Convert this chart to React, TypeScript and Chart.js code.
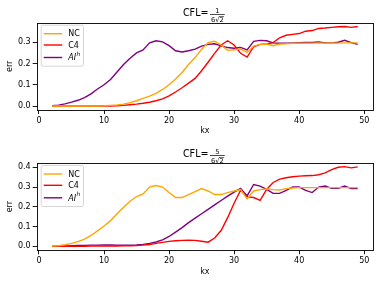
import React, { useEffect, useRef } from "react";
import { Chart, registerables } from "chart.js";

Chart.register(...registerables);

const kx = [2, 3, 4, 5, 6, 7, 8, 9, 10, 11, 12, 13, 14, 15, 16, 17, 18, 19, 20, 21, 22, 23, 24, 25, 26, 27, 28, 29, 30, 31, 32, 33, 34, 35, 36, 37, 38, 39, 40, 41, 42, 43, 44, 45, 46, 47, 48, 49];

// CFL = 1/(6*sqrt(2))
const nc1 = [0, 0, 0, 0, 0, 0, 0, 0, 0.001, 0.003, 0.005, 0.009, 0.016, 0.025, 0.036, 0.047, 0.06, 0.078, 0.1, 0.127, 0.158, 0.195, 0.228, 0.267, 0.298, 0.305, 0.287, 0.262, 0.265, 0.268, 0.252, 0.282, 0.29, 0.292, 0.284, 0.292, 0.293, 0.295, 0.295, 0.296, 0.296, 0.297, 0.296, 0.297, 0.296, 0.297, 0.297, 0.297];
const c41 = [0, 0, 0, 0, 0, 0, 0, 0, 0, 0, 0.001, 0.003, 0.006, 0.009, 0.013, 0.018, 0.025, 0.034, 0.048, 0.066, 0.086, 0.108, 0.13, 0.166, 0.206, 0.248, 0.287, 0.307, 0.287, 0.248, 0.23, 0.279, 0.29, 0.292, 0.298, 0.321, 0.333, 0.337, 0.341, 0.352, 0.355, 0.365, 0.367, 0.37, 0.373, 0.374, 0.37, 0.374];
const ai1 = [0.0015, 0.004, 0.01, 0.018, 0.027, 0.04, 0.057, 0.08, 0.1, 0.125, 0.16, 0.195, 0.225, 0.25, 0.264, 0.297, 0.307, 0.302, 0.284, 0.26, 0.254, 0.26, 0.268, 0.282, 0.29, 0.293, 0.283, 0.275, 0.272, 0.276, 0.264, 0.304, 0.309, 0.307, 0.297, 0.295, 0.296, 0.297, 0.298, 0.299, 0.299, 0.301, 0.297, 0.297, 0.3, 0.309, 0.298, 0.29];

// CFL = 5/(6*sqrt(2))
const nc2 = [0.001, 0.003, 0.008, 0.015, 0.024, 0.037, 0.055, 0.078, 0.103, 0.13, 0.165, 0.198, 0.228, 0.252, 0.265, 0.3, 0.308, 0.3, 0.272, 0.247, 0.247, 0.262, 0.277, 0.292, 0.28, 0.262, 0.262, 0.272, 0.28, 0.287, 0.24, 0.28, 0.287, 0.29, 0.287, 0.285, 0.292, 0.295, 0.297, 0.297, 0.297, 0.297, 0.297, 0.297, 0.297, 0.297, 0.297, 0.297];
const c42 = [0, 0, 0, 0, 0, 0, 0.001, 0.001, 0.001, 0.002, 0.002, 0.003, 0.003, 0.004, 0.006, 0.009, 0.015, 0.02, 0.025, 0.028, 0.03, 0.031, 0.03, 0.026, 0.021, 0.042, 0.08, 0.145, 0.218, 0.284, 0.25, 0.247, 0.233, 0.288, 0.323, 0.34, 0.347, 0.352, 0.355, 0.357, 0.358, 0.362, 0.372, 0.388, 0.4, 0.403, 0.397, 0.402];
const ai2 = [0, 0.001, 0.002, 0.003, 0.004, 0.005, 0.006, 0.006, 0.007, 0.007, 0.006, 0.006, 0.006, 0.007, 0.01, 0.015, 0.022, 0.033, 0.05, 0.072, 0.095, 0.12, 0.143, 0.165, 0.187, 0.21, 0.232, 0.254, 0.274, 0.293, 0.255, 0.313, 0.305, 0.288, 0.268, 0.268, 0.283, 0.3, 0.3, 0.283, 0.272, 0.3, 0.305, 0.293, 0.293, 0.305, 0.292, 0.292];

const xTicks = [0, 10, 20, 30, 40, 50];
const yTicks1 = [0, 0.1, 0.2, 0.3];
const yTicks2 = [0, 0.1, 0.2, 0.3, 0.4];
const seriesNames = ["NC", "C4", "AI"];
const seriesColors = ["#FFA500", "#FF0000", "#800080"];

const FONT = "'DejaVu Sans', sans-serif";

function pts(arr: number[]) {
  return kx.map((x, i) => ({ x, y: arr[i] }));
}

const decoPlugin = {
  id: "deco",
  afterDraw(chart: any, _args: any, opts: any) {
    const ctx = chart.ctx as CanvasRenderingContext2D;
    const a = chart.chartArea;
    ctx.save();
    // frame (spines)
    ctx.strokeStyle = "#000";
    ctx.lineWidth = 0.9;
    ctx.strokeRect(Math.round(a.left) + 0.5, Math.round(a.top) + 0.5, Math.round(a.right - a.left), Math.round(a.bottom - a.top));

    // title
    const cx = (a.left + a.right) / 2;
    ctx.fillStyle = "#000";
    ctx.font = `9.6px ${FONT}`;
    ctx.textBaseline = "alphabetic";
    const t = "CFL=";
    const tw = ctx.measureText(t).width;
    ctx.font = `6.7px ${FONT}`;
    const denomA = "6";
    const denomB = "√";
    const denomC = "2";
    const wA = ctx.measureText(denomA).width;
    const wB = ctx.measureText(denomB).width;
    const wC = ctx.measureText(denomC).width;
    const fw = wA + wB + wC + 2;
    const total = tw + 1.5 + fw;
    const x0 = cx - total / 2 - 1;
    ctx.font = `9.6px ${FONT}`;
    ctx.textAlign = "left";
    ctx.fillText(t, x0, 16);
    const fx = x0 + tw + 1.5;
    ctx.lineWidth = 0.7;
    ctx.beginPath();
    ctx.moveTo(fx, 14.5);
    ctx.lineTo(fx + fw, 14.5);
    ctx.stroke();
    ctx.font = `6.7px ${FONT}`;
    ctx.textAlign = "center";
    ctx.fillText(opts.num, fx + fw / 2, 12.8);
    ctx.textAlign = "left";
    const dx = fx + 1;
    ctx.fillText(denomA, dx, 21.8);
    ctx.fillText(denomB, dx + wA, 21.8);
    ctx.fillText(denomC, dx + wA + wB, 21.8);
    ctx.lineWidth = 0.6;
    ctx.beginPath();
    ctx.moveTo(dx + wA + wB - 0.5, 16.6);
    ctx.lineTo(dx + wA + wB + wC + 0.3, 16.6);
    ctx.stroke();

    // axis labels
    ctx.font = `8px ${FONT}`;
    ctx.textAlign = "center";
    ctx.textBaseline = "middle";
    ctx.fillText("kx", cx, 131);
    ctx.save();
    ctx.translate(10, (a.top + a.bottom) / 2);
    ctx.rotate(-Math.PI / 2);
    ctx.fillText("err", 0, 0);
    ctx.restore();

    // legend
    const bx = a.left + 4;
    const by = a.top + 2;
    const bw = 42.3;
    const bh = 41;
    ctx.beginPath();
    if ((ctx as any).roundRect) (ctx as any).roundRect(bx + 0.5, by + 0.5, bw, bh, 2);
    else ctx.rect(bx + 0.5, by + 0.5, bw, bh);
    ctx.fillStyle = "rgba(255,255,255,0.8)";
    ctx.fill();
    ctx.strokeStyle = "#cccccc";
    ctx.lineWidth = 0.8;
    ctx.stroke();
    const rows = [by + 9, by + 20.3, by + 32.8];
    seriesNames.forEach((name, i) => {
      const ry = rows[i];
      ctx.strokeStyle = seriesColors[i];
      ctx.lineWidth = 1.4;
      ctx.beginPath();
      ctx.moveTo(bx + 3, ry);
      ctx.lineTo(bx + 21.5, ry);
      ctx.stroke();
      ctx.fillStyle = "#000";
      ctx.textAlign = "left";
      ctx.textBaseline = "middle";
      if (i === 2) {
        ctx.font = `italic 8px ${FONT}`;
        ctx.fillText(name, bx + 27.5, ry + 0.8);
        const w = ctx.measureText(name).width;
        ctx.font = `italic 5.8px ${FONT}`;
        ctx.fillText("h", bx + 27.5 + w + 0.5, ry - 3);
      } else {
        ctx.font = `8px ${FONT}`;
        ctx.fillText(name, bx + 27.5, ry + 0.5);
      }
    });
    ctx.restore();
  },
};

function makeConfig(data: number[][], yMin: number, yMax: number, yTicks: number[], padTop: number, xH: number, num: string) {
  return {
    type: "line",
    data: {
      datasets: data.map((d, i) => ({
        label: seriesNames[i],
        data: pts(d),
        borderColor: seriesColors[i],
        backgroundColor: seriesColors[i],
        borderWidth: 1.4,
        pointRadius: 0,
        tension: 0,
        fill: false,
      })),
    },
    options: {
      animation: false,
      responsive: false,
      devicePixelRatio: 1,
      layout: { padding: { top: padTop, right: 6, left: 0, bottom: 0 } },
      plugins: {
        legend: { display: false },
        title: { display: false },
        tooltip: { enabled: false },
        deco: { num },
      },
      scales: {
        x: {
          type: "linear",
          min: -0.35,
          max: 51.35,
          afterBuildTicks: (s: any) => {
            s.ticks = xTicks.map((v) => ({ value: v }));
          },
          afterFit: (s: any) => {
            s.height = xH;
          },
          ticks: {
            font: { family: FONT, size: 8 },
            color: "#000",
            padding: 2,
            maxRotation: 0,
            autoSkip: false,
            callback: (v: any) => String(v),
          },
          grid: { drawOnChartArea: false, drawTicks: true, tickLength: 4, color: "#000", lineWidth: 0.9 },
          border: { display: false },
        },
        y: {
          type: "linear",
          min: yMin,
          max: yMax,
          afterBuildTicks: (s: any) => {
            s.ticks = yTicks.map((v) => ({ value: v }));
          },
          afterFit: (s: any) => {
            s.width = 36.7;
          },
          ticks: {
            font: { family: FONT, size: 8 },
            color: "#000",
            padding: 2,
            autoSkip: false,
            callback: (v: any) => Number(v).toFixed(1),
          },
          grid: { drawOnChartArea: false, drawTicks: true, tickLength: 4, color: "#000", lineWidth: 0.9 },
          border: { display: false },
        },
      },
    },
    plugins: [decoPlugin],
  } as any;
}

function Panel(props: { cfg: any; top: number }) {
  const ref = useRef<HTMLCanvasElement | null>(null);
  useEffect(() => {
    if (!ref.current) return;
    const chart = new Chart(ref.current, props.cfg);
    return () => chart.destroy();
  }, []);
  return (
    <canvas
      ref={ref}
      width={379}
      height={141}
      style={{ position: "absolute", left: 0, top: props.top, width: 379, height: 141 }}
    />
  );
}

export default function App() {
  const cfgTop = makeConfig([nc1, c41, ai1], -0.0187, 0.392, yTicks1, 22.7, 31, "1");
  const cfgBot = makeConfig([nc2, c42, ai2], -0.02, 0.4216, yTicks2, 22, 31.7, "5");
  return (
    <div style={{ position: "fixed", left: 0, top: 0, width: 379, height: 282, background: "#fff" }}>
      <Panel cfg={cfgTop} top={0} />
      <Panel cfg={cfgBot} top={141} />
    </div>
  );
}
